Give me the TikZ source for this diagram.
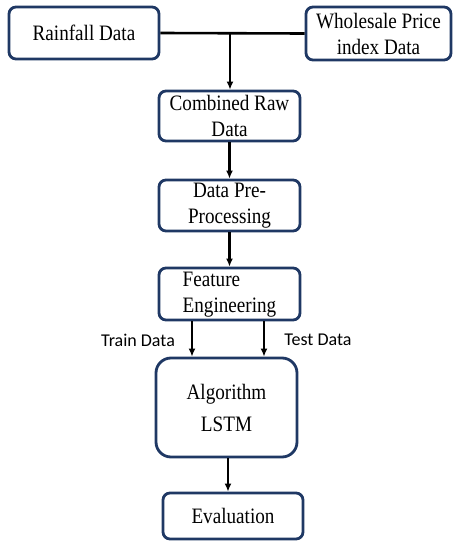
\documentclass[tikz,border=0pt]{standalone}
\usepackage{fontspec}
\setmainfont{Liberation Serif}[FakeStretch=0.87]
\newfontfamily\labelfont{Carlito}
\usetikzlibrary{arrows.meta}
\definecolor{boxline}{HTML}{1F3864}
\tikzset{
  box/.style={draw=boxline, line width=2.8pt, rounded corners=7pt, align=center,
    inner sep=0pt, font=\fontsize{22}{26}\selectfont, text=black},
  arr/.style={draw=black, line width=2.4pt, -{Latex[length=8pt,width=7pt]}},
  lnk/.style={draw=black, line width=2.6pt},
  lbl/.style={font=\labelfont\fontsize{18}{21}\selectfont, text=black, inner sep=0pt}
}
\begin{document}
\begin{tikzpicture}[x=1pt,y=-1pt]
\useasboundingbox (0,0) rectangle (453,541);
\node[box, minimum width=150pt, minimum height=52pt] (rain) at (84,33) {Rainfall Data};
\node[box, minimum width=145pt, minimum height=53pt] (whole) at (378.5,33.5) {Wholesale Price\\index Data};
\node[box, minimum width=141pt, minimum height=50pt] (comb) at (229.5,116) {Combined Raw\\Data};
\node[box, minimum width=141pt, minimum height=51pt] (pre) at (229.5,205.5) {Data Pre-\\Processing};
\node[box, minimum width=141pt, minimum height=52pt] (feat) at (229.5,294) {\begin{tabular}{@{}l@{}}Feature\\Engineering\end{tabular}};
\node[box, rounded corners=15pt, minimum width=141pt, minimum height=99pt,
  font=\fontsize{22}{32}\selectfont] (algo) at (226.5,407.5) {Algorithm\\LSTM};
\node[box, minimum width=140pt, minimum height=46pt] (eval) at (233,516) {\raisebox{-2pt}{Evaluation}};
\coordinate (J) at (230,33);
\coordinate (tx) at (192,0);
\coordinate (sx) at (264,0);
\coordinate (ex) at (228,0);
\draw[lnk] (rain.east) -- (whole.west);
\draw[arr] (J) -- (J |- comb.north);
\draw[arr] (comb.south) -- (pre.north);
\draw[arr] (pre.south) -- (feat.north);
\draw[arr] (tx |- feat.south) -- (tx |- algo.north);
\draw[arr] (sx |- feat.south) -- (sx |- algo.north);
\draw[arr] (ex |- algo.south) -- (ex |- eval.north);
\node[lbl] (train) at (138,340) {Train Data};
\node[lbl] (test) at (318,340) {Test Data};
\end{tikzpicture}
\end{document}
